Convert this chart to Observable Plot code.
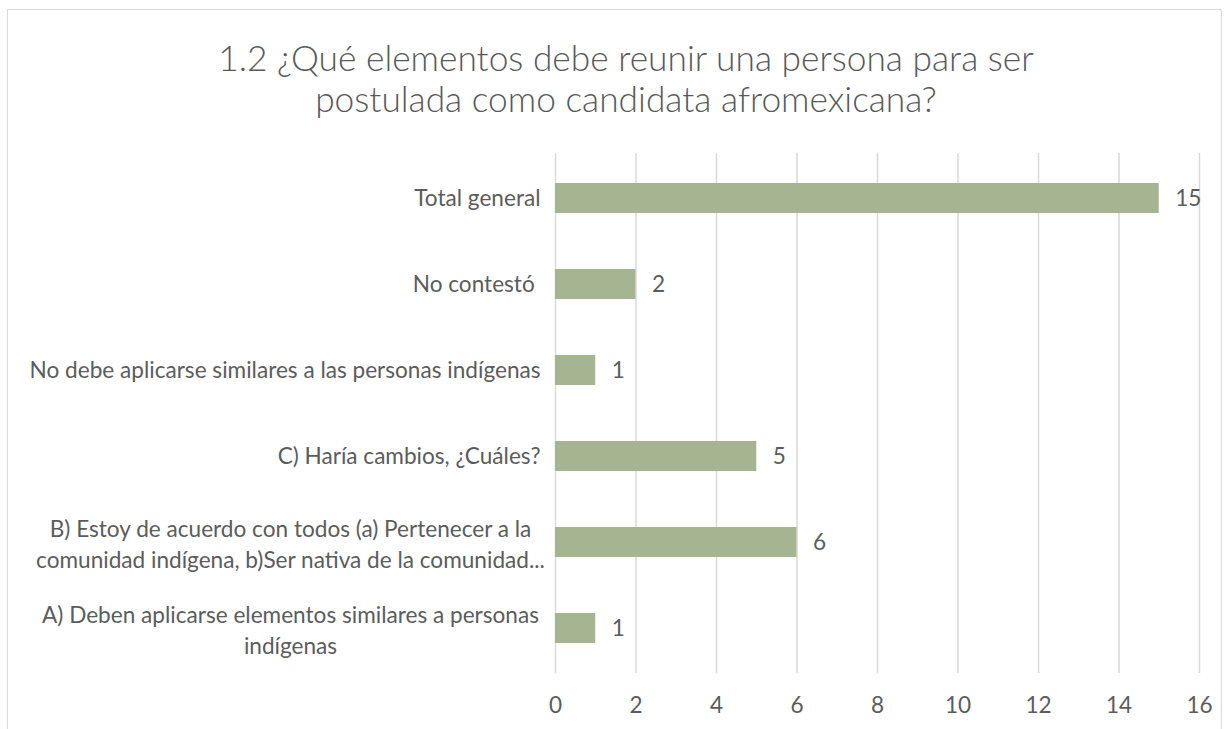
<!DOCTYPE html>
<html>
<head>
<meta charset="utf-8">
<script src="https://cdn.jsdelivr.net/npm/d3@7"></script>
<script src="https://cdn.jsdelivr.net/npm/@observablehq/plot@0.6"></script>
<style>
  html, body { margin: 0; padding: 0; background: #fff; }
  #wrap { position: relative; width: 1231px; height: 729px; overflow: hidden; font-family: Lato, "Open Sans", sans-serif; }
  #frame { position: absolute; left: 7px; top: 9px; width: 1215px; height: 740px; border: 1px solid #d9d9d9; box-sizing: border-box; }
  #title { position: absolute; left: 0; top: 37px; width: 1252px; text-align: center; color: #595959; font-size: 35.3px; font-weight: 300; line-height: 41px; }
  #chart { position: absolute; left: 0; top: 140px; }
</style>
</head>
<body>
<div id="wrap">
  <div id="frame"></div>
  <div id="title">1.2 ¿Qué elementos debe reunir una persona para ser<br>postulada como candidata afromexicana?</div>
  <div id="chart"></div>
</div>
<script>
const categories = [
  "Total general",
  "No contestó ",
  "No debe aplicarse similares a las personas indígenas",
  "C) Haría cambios, ¿Cuáles?",
  "B) Estoy de acuerdo con todos (a) Pertenecer a la\ncomunidad indígena, b)Ser nativa de la comunidad...",
  "A) Deben aplicarse elementos similares a personas\nindígenas"
];
const values = [15, 2, 1, 5, 6, 1];
const xTicks = [0, 2, 4, 6, 8, 10, 12, 14, 16];

const data = categories.map((c, i) => ({category: c, value: values[i]}));
const single = categories.filter(c => !c.includes("\n"));
const multi = categories.filter(c => c.includes("\n"));
const ink = "#5c5c5c";
const fs = 22.6;

const chart = Plot.plot({
  width: 1231,
  height: 589,
  marginLeft: 555,
  marginRight: 32,
  marginTop: 13,
  marginBottom: 56,
  style: {fontFamily: "Lato, 'Open Sans', sans-serif", color: ink, background: "transparent"},
  x: {domain: [0, 16]},
  y: {domain: categories, paddingInner: 0.655, paddingOuter: 0.3275},
  marks: [
    Plot.gridX(xTicks, {stroke: "#d9d9d9", strokeOpacity: 1, strokeWidth: 1.5}),
    Plot.axisX(xTicks, {tickSize: 0, tickPadding: 23, fontSize: fs, fill: ink, label: null}),
    Plot.axisY(single, {tickSize: 0, tickPadding: 15, fontSize: fs, fill: ink, label: null, textAnchor: "end"}),
    Plot.axisY(multi, {tickSize: 0, tickPadding: 15, fontSize: fs, fill: ink, label: null, textAnchor: "middle", dx: -250, lineHeight: 1.35}),
    Plot.barX(data, {x: "value", y: "category", fill: "#a5b592"}),
    Plot.text(data, {x: "value", y: "category", text: d => String(d.value), textAnchor: "start", dx: 16, fontSize: fs, fill: ink})
  ]
});
document.getElementById("chart").appendChild(chart);
</script>
</body>
</html>
